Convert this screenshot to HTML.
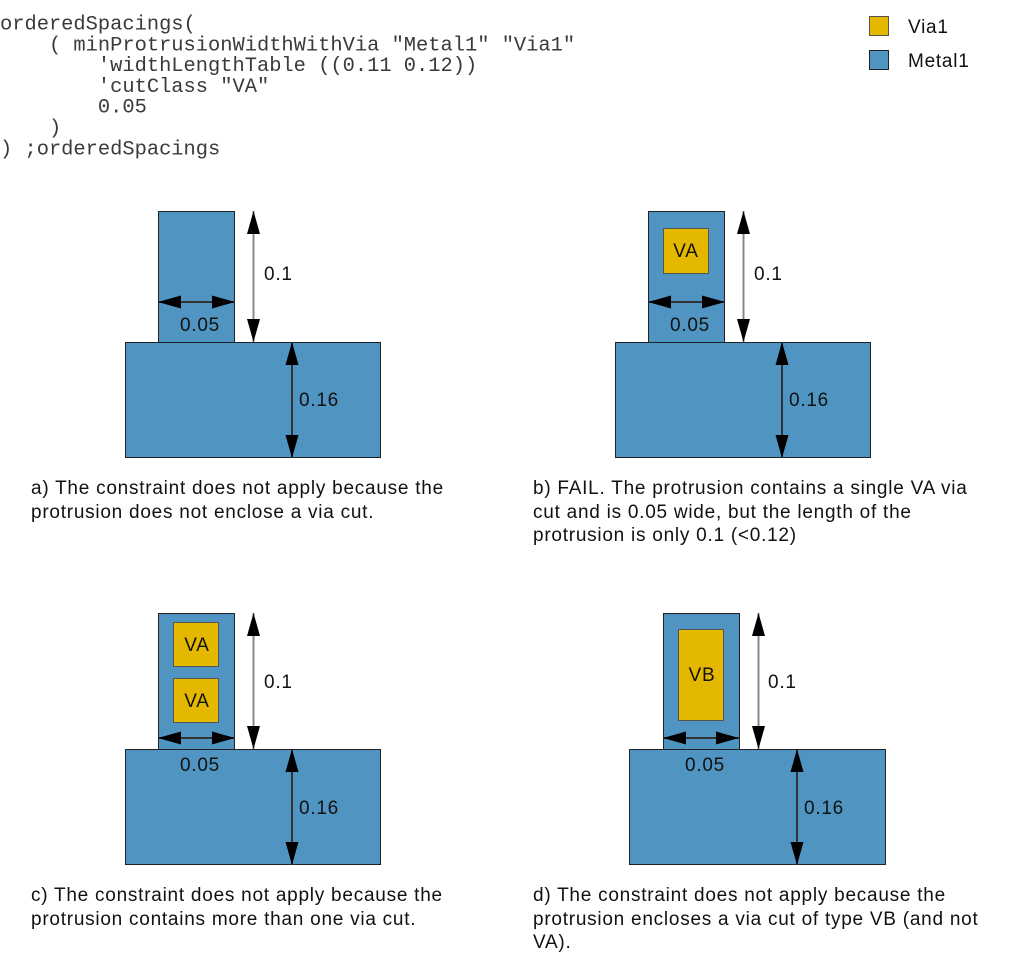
<!DOCTYPE html>
<html>
<head>
<meta charset="utf-8">
<style>
html,body{margin:0;padding:0;background:#fff;}
body{width:1013px;height:977px;overflow:hidden;position:relative;}
svg{position:absolute;left:0;top:0;}
.code{font-family:"Liberation Mono","Courier New",monospace;font-size:20.4px;fill:#3a3a3a;white-space:pre;}
.lbl{font-family:"Liberation Sans",Arial,sans-serif;font-size:19px;letter-spacing:0.75px;fill:#111;}
.cap{font-family:"Liberation Sans",Arial,sans-serif;font-size:19px;letter-spacing:0.75px;fill:#111;}
.metal{fill:#5095c2;stroke:#222;stroke-width:1;}
.via{fill:#e5b800;stroke:#555;stroke-width:1;}
</style>
</head>
<body>
<svg width="1013" height="977" viewBox="0 0 1013 977" xmlns="http://www.w3.org/2000/svg">
<defs>
<marker id="ah" markerWidth="23" markerHeight="13" refX="23" refY="6.5" orient="auto" markerUnits="userSpaceOnUse">
<path d="M0,0 L23,6.5 L0,13 Z" fill="#000"/>
</marker>
<marker id="at" markerWidth="23" markerHeight="13" refX="0" refY="6.5" orient="auto" markerUnits="userSpaceOnUse">
<path d="M23,0 L0,6.5 L23,13 Z" fill="#000"/>
</marker>
</defs>

<!-- code -->
<text class="code" x="0" y="29.5" xml:space="preserve">orderedSpacings(</text>
<text class="code" x="0" y="50.3" xml:space="preserve">    ( minProtrusionWidthWithVia "Metal1" "Via1"</text>
<text class="code" x="0" y="71.1" xml:space="preserve">        'widthLengthTable ((0.11 0.12))</text>
<text class="code" x="0" y="91.9" xml:space="preserve">        'cutClass "VA"</text>
<text class="code" x="0" y="112.7" xml:space="preserve">        0.05</text>
<text class="code" x="0" y="133.5" xml:space="preserve">    )</text>
<text class="code" x="0" y="154.3" xml:space="preserve">) ;orderedSpacings</text>

<!-- legend -->
<rect x="869.5" y="16.5" width="19" height="19" class="via" stroke="#333"/>
<rect x="869.5" y="50.5" width="19" height="19" class="metal"/>
<text class="lbl" x="908" y="33">Via1</text>
<text class="lbl" x="908" y="67">Metal1</text>

<!-- Panel a -->
<rect x="158.5" y="211.5" width="76" height="131" class="metal"/>
<rect x="125.5" y="342.5" width="255" height="115" class="metal"/>
<line x1="253.5" y1="211" x2="253.5" y2="342" stroke="#888" stroke-width="2" marker-start="url(#at)" marker-end="url(#ah)"/>
<line x1="158" y1="302" x2="235" y2="302" stroke="#333" stroke-width="2" marker-start="url(#at)" marker-end="url(#ah)"/>
<line x1="292" y1="342" x2="292" y2="458" stroke="#333" stroke-width="2" marker-start="url(#at)" marker-end="url(#ah)"/>
<text class="lbl" x="264" y="280">0.1</text>
<text class="lbl" x="180" y="331">0.05</text>
<text class="lbl" x="299" y="406">0.16</text>

<!-- Panel b -->
<rect x="648.5" y="211.5" width="76" height="131" class="metal"/>
<rect x="615.5" y="342.5" width="255" height="115" class="metal"/>
<rect x="663.5" y="228.5" width="45" height="45" class="via"/>
<text class="lbl" x="686" y="257" text-anchor="middle">VA</text>
<line x1="743.5" y1="211" x2="743.5" y2="342" stroke="#888" stroke-width="2" marker-start="url(#at)" marker-end="url(#ah)"/>
<line x1="648" y1="302" x2="725" y2="302" stroke="#333" stroke-width="2" marker-start="url(#at)" marker-end="url(#ah)"/>
<line x1="782" y1="342" x2="782" y2="458" stroke="#333" stroke-width="2" marker-start="url(#at)" marker-end="url(#ah)"/>
<text class="lbl" x="754" y="280">0.1</text>
<text class="lbl" x="670" y="331">0.05</text>
<text class="lbl" x="789" y="406">0.16</text>

<!-- Panel c -->
<rect x="158.5" y="613.5" width="76" height="136" class="metal"/>
<rect x="125.5" y="749.5" width="255" height="115" class="metal"/>
<rect x="173.5" y="622.5" width="45" height="44" class="via"/>
<rect x="173.5" y="678.5" width="45" height="44" class="via"/>
<text class="lbl" x="197" y="651" text-anchor="middle">VA</text>
<text class="lbl" x="197" y="707" text-anchor="middle">VA</text>
<line x1="253.5" y1="613" x2="253.5" y2="749" stroke="#888" stroke-width="2" marker-start="url(#at)" marker-end="url(#ah)"/>
<line x1="158" y1="738" x2="235" y2="738" stroke="#333" stroke-width="2" marker-start="url(#at)" marker-end="url(#ah)"/>
<line x1="292" y1="749" x2="292" y2="865" stroke="#333" stroke-width="2" marker-start="url(#at)" marker-end="url(#ah)"/>
<text class="lbl" x="264" y="688">0.1</text>
<text class="lbl" x="180" y="771">0.05</text>
<text class="lbl" x="299" y="814">0.16</text>

<!-- Panel d -->
<rect x="663.5" y="613.5" width="76" height="136" class="metal"/>
<rect x="629.5" y="749.5" width="256" height="115" class="metal"/>
<rect x="678.5" y="629.5" width="45" height="91" class="via"/>
<text class="lbl" x="702" y="681" text-anchor="middle">VB</text>
<line x1="758.5" y1="613" x2="758.5" y2="749" stroke="#888" stroke-width="2" marker-start="url(#at)" marker-end="url(#ah)"/>
<line x1="663" y1="738" x2="739" y2="738" stroke="#333" stroke-width="2" marker-start="url(#at)" marker-end="url(#ah)"/>
<line x1="797" y1="749" x2="797" y2="865" stroke="#333" stroke-width="2" marker-start="url(#at)" marker-end="url(#ah)"/>
<text class="lbl" x="768" y="688">0.1</text>
<text class="lbl" x="685" y="771">0.05</text>
<text class="lbl" x="804" y="814">0.16</text>

<!-- captions -->
<text class="cap" x="31" y="494">a) The constraint does not apply because the</text>
<text class="cap" x="31" y="518">protrusion does not enclose a via cut.</text>

<text class="cap" x="533" y="494">b) FAIL. The protrusion contains a single VA via</text>
<text class="cap" x="533" y="518">cut and is 0.05 wide, but the length of the</text>
<text class="cap" x="533" y="541">protrusion is only 0.1 (&lt;0.12)</text>

<text class="cap" x="31" y="901">c) The constraint does not apply because the</text>
<text class="cap" x="31" y="925">protrusion contains more than one via cut.</text>

<text class="cap" x="533" y="901">d) The constraint does not apply because the</text>
<text class="cap" x="533" y="925">protrusion encloses a via cut of type VB (and not</text>
<text class="cap" x="533" y="948">VA).</text>
</svg>
</body>
</html>
